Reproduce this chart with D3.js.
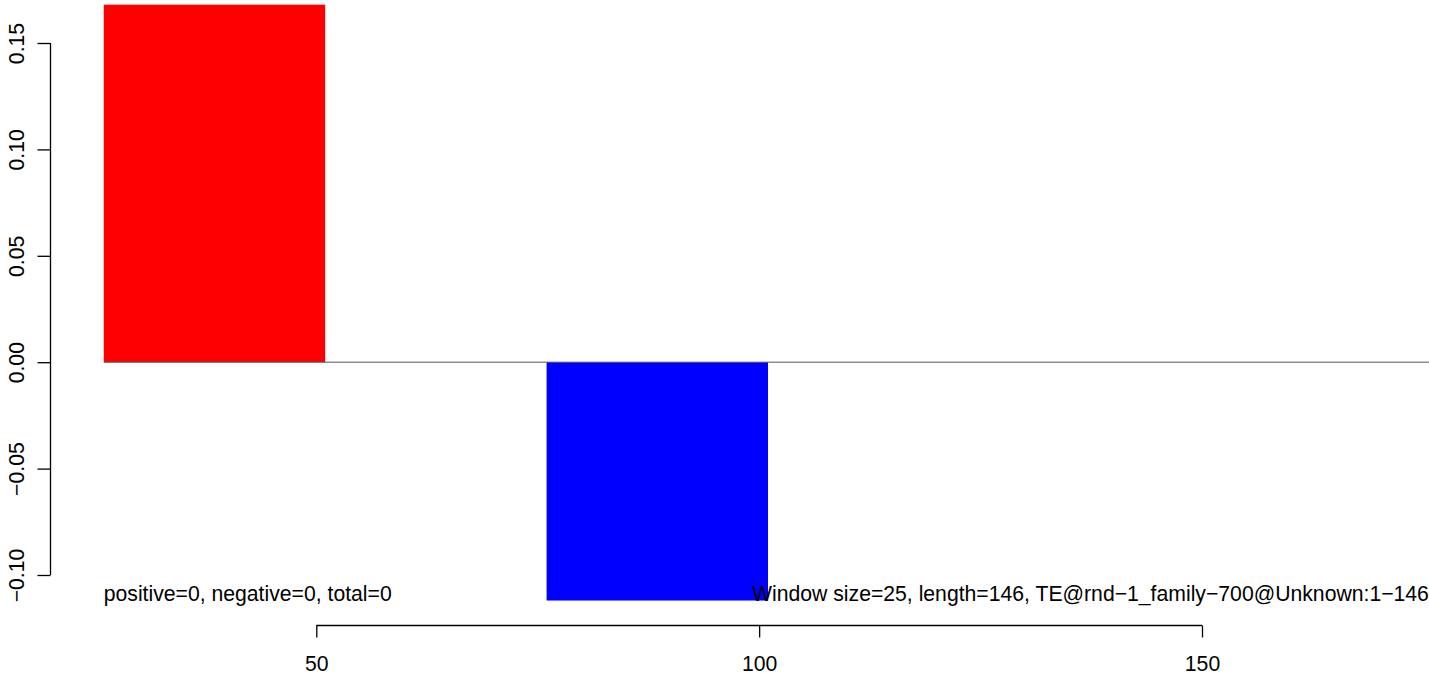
<!DOCTYPE html>
<html>
<head>
<meta charset="utf-8">
<script src="https://cdn.jsdelivr.net/npm/d3@7"></script>
<style>
  html, body { margin: 0; padding: 0; background: #fff; }
  svg { display: block; }
  text { font-family: "Liberation Sans", Arial, Helvetica, sans-serif; fill: #000; }
</style>
</head>
<body>
<svg id="chart" width="1429" height="673"></svg>
<script>
// ---- data ----
const windowStarts = [26, 51, 76, 101, 126];
const windowEnds   = [51, 76, 101, 126, 151];
const windowValues = [0.168, 0, -0.112, 0, 0];
const barColors    = ["#ff0000", "#ff0000", "#0000ff", "#ff0000", "#ff0000"];
const xTicks = [50, 100, 150];
const yTicks = [-0.10, -0.05, 0.00, 0.05, 0.10, 0.15];
const leftNote  = "positive=0, negative=0, total=0";
const rightNote = "Window size=25, length=146, TE@rnd\u22121_family\u2212700@Unknown:1\u2212146";

// ---- layout ----
const W = 1429, H = 673;
const svg = d3.select("#chart");
const fontSize = 21.2;

const x = d3.scaleLinear().domain([50, 150]).range([316.3, 1202]);
const y = d3.scaleLinear().domain([-0.10, 0.15]).range([575, 43]);

const fmt = v => d3.format(".2f")(v).replace("-", "\u2212");

// bars
const bars = windowStarts.map((s, i) => ({ s, e: windowEnds[i], v: windowValues[i], c: barColors[i] }));
svg.append("g").selectAll("rect").data(bars).join("rect")
  .attr("x", d => x(d.s))
  .attr("width", d => x(d.e) - x(d.s))
  .attr("y", d => y(Math.max(0, d.v)))
  .attr("height", d => Math.abs(y(d.v) - y(0)))
  .attr("fill", d => d.c);

// zero line
svg.append("line")
  .attr("x1", x(26)).attr("x2", W)
  .attr("y1", y(0)).attr("y2", y(0))
  .attr("stroke", "#555").attr("stroke-width", 1);

// y axis (R style)
const yAxis = d3.axisLeft(y).tickValues(yTicks).tickSize(13).tickFormat(fmt);
const gy = svg.append("g").attr("transform", "translate(50.5,0)").call(yAxis);
gy.select(".domain").attr("d", `M0,${y(0.15)}V${y(-0.10)}`).attr("stroke", "#000").attr("stroke-width", 1.3);
gy.selectAll(".tick line").attr("stroke", "#000").attr("stroke-width", 1.3);
gy.selectAll(".tick text")
  .attr("font-size", fontSize)
  .attr("font-family", "Liberation Sans, Arial, sans-serif")
  .attr("x", 0).attr("dy", 0)
  .attr("text-anchor", "middle")
  .attr("transform", "translate(-26.5,0) rotate(-90)");

// x axis
const xAxis = d3.axisBottom(x).tickValues(xTicks).tickSize(12).tickFormat(d3.format("d"));
const gx = svg.append("g").attr("transform", "translate(0,625.5)").call(xAxis);
gx.select(".domain").attr("d", `M${x(50)},0H${x(150)}`).attr("stroke", "#000").attr("stroke-width", 1.3);
gx.selectAll(".tick line").attr("stroke", "#000").attr("stroke-width", 1.3);
gx.selectAll(".tick text")
  .attr("font-size", fontSize)
  .attr("font-family", "Liberation Sans, Arial, sans-serif")
  .attr("y", 45.5).attr("dy", 0);

// annotations
svg.append("text").attr("x", x(26)).attr("y", 601)
  .attr("font-size", fontSize).text(leftNote);
svg.append("text").attr("x", 752).attr("y", 601)
  .attr("font-size", fontSize).text(rightNote);
</script>
</body>
</html>
